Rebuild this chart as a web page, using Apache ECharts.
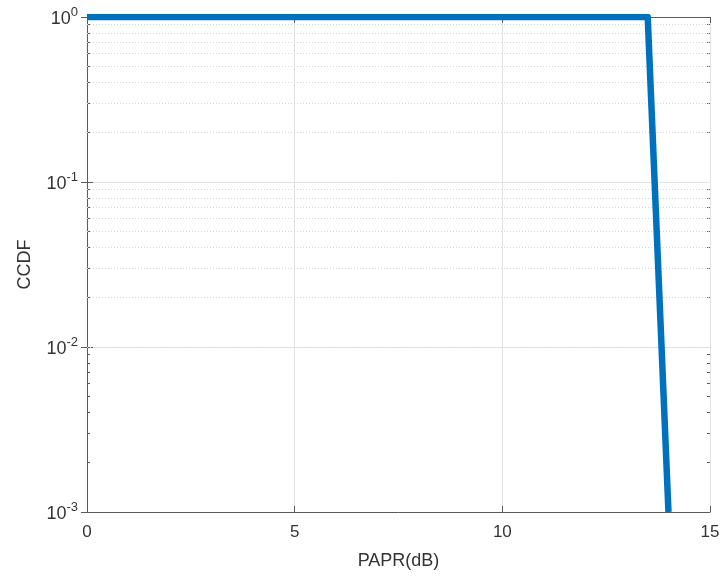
<!DOCTYPE html>
<html>
<head>
<meta charset="utf-8">
<script src="https://cdn.jsdelivr.net/npm/echarts@6/dist/echarts.min.js"></script>
<style>html,body{margin:0;padding:0;background:#fff;}#c{width:726px;height:581px;}</style>
</head>
<body>
<div id="c"></div>
<script>
// Data
var paprDb = [0, 13.5, 14];
var ccdf = [1, 1, 0.001];
var xTicks = [0, 5, 10, 15];
var yMajorTicks = [0.001, 0.01, 0.1, 1];
var yMinorTicks = [];
[0.001, 0.01, 0.1].forEach(function (d) {
  for (var k = 2; k <= 9; k++) yMinorTicks.push(+(d * k).toPrecision(3));
});

var chart = echarts.init(document.getElementById('c'));
var axisColor = '#5a5a5a';
var labelColor = '#333333';
var font = 'Liberation Sans, Arial, sans-serif';

var minorGrid = yMinorTicks.map(function (v) { return { yAxis: v }; });

chart.setOption({
  animation: false,
  backgroundColor: '#ffffff',
  grid: { left: 87, right: 16, top: 17, bottom: 69, containLabel: false },
  xAxis: [{
    type: 'value', min: 0, max: 15, interval: 5, position: 'bottom',
    name: 'PAPR(dB)', nameLocation: 'middle', nameGap: 40,
    nameTextStyle: { fontSize: 18, color: labelColor, fontFamily: font },
    axisLine: { show: true, lineStyle: { color: axisColor, width: 1 } },
    axisTick: { show: true, inside: true, length: 6, lineStyle: { color: axisColor } },
    axisLabel: { fontSize: 17, color: labelColor, fontFamily: font, margin: 12 },
    splitLine: { show: true, lineStyle: { color: '#e3e3e3', width: 1 } }
  }, {
    type: 'value', min: 0, max: 15, interval: 5, position: 'top',
    axisLine: { show: true, lineStyle: { color: axisColor, width: 1 } },
    axisTick: { show: true, inside: true, length: 6, lineStyle: { color: axisColor } },
    axisLabel: { show: false }, splitLine: { show: false }
  }],
  yAxis: [{
    type: 'log', logBase: 10, min: 0.001, max: 1, position: 'left',
    name: 'CCDF', nameLocation: 'middle', nameGap: 53, nameRotate: 90,
    nameTextStyle: { fontSize: 18, color: labelColor, fontFamily: font },
    axisLine: { show: true, lineStyle: { color: axisColor, width: 1 } },
    axisTick: { show: true, inside: true, length: 6, lineStyle: { color: axisColor } },
    axisLabel: {
      margin: 9, color: labelColor, fontFamily: font, fontSize: 17,
      formatter: function (v) {
        var e = Math.round(Math.log10(v));
        return '{b|10}{s|' + e + '}';
      },
      rich: {
        b: { fontSize: 18, color: labelColor, fontFamily: font, verticalAlign: 'bottom', lineHeight: 18 },
        s: { fontSize: 13, color: labelColor, fontFamily: font, verticalAlign: 'top', padding: [0, 0, 10, 0] }
      }
    },
    splitLine: { show: true, lineStyle: { color: '#e3e3e3', width: 1 } }
  }, {
    type: 'log', logBase: 10, min: 0.001, max: 1, position: 'right',
    axisLine: { show: true, lineStyle: { color: axisColor, width: 1 } },
    axisTick: { show: true, inside: true, length: 6, lineStyle: { color: axisColor } },
    axisLabel: { show: false }, splitLine: { show: false }
  }, {
    type: 'log', logBase: 10, min: 0.001, max: 1, position: 'left',
    axisLine: { show: false },
    axisTick: { show: true, inside: true, length: 3, customValues: yMinorTicks, lineStyle: { color: axisColor } },
    axisLabel: { show: false }, splitLine: { show: false }
  }, {
    type: 'log', logBase: 10, min: 0.001, max: 1, position: 'right',
    axisLine: { show: false },
    axisTick: { show: true, inside: true, length: 3, customValues: yMinorTicks, lineStyle: { color: axisColor } },
    axisLabel: { show: false }, splitLine: { show: false }
  }],
  series: [{
    type: 'line',
    xAxisIndex: 0, yAxisIndex: 0,
    data: paprDb.map(function (x, i) { return [x, ccdf[i]]; }),
    symbol: 'none',
    lineStyle: { color: '#0072BD', width: 6.5, join: 'round', cap: 'butt' },
    z: 5,
    markLine: {
      silent: true, symbol: 'none', label: { show: false },
      lineStyle: { color: '#d6d6d6', type: [1, 2], width: 1 },
      data: minorGrid,
      z: 1
    }
  }]
});
</script>
</body>
</html>
